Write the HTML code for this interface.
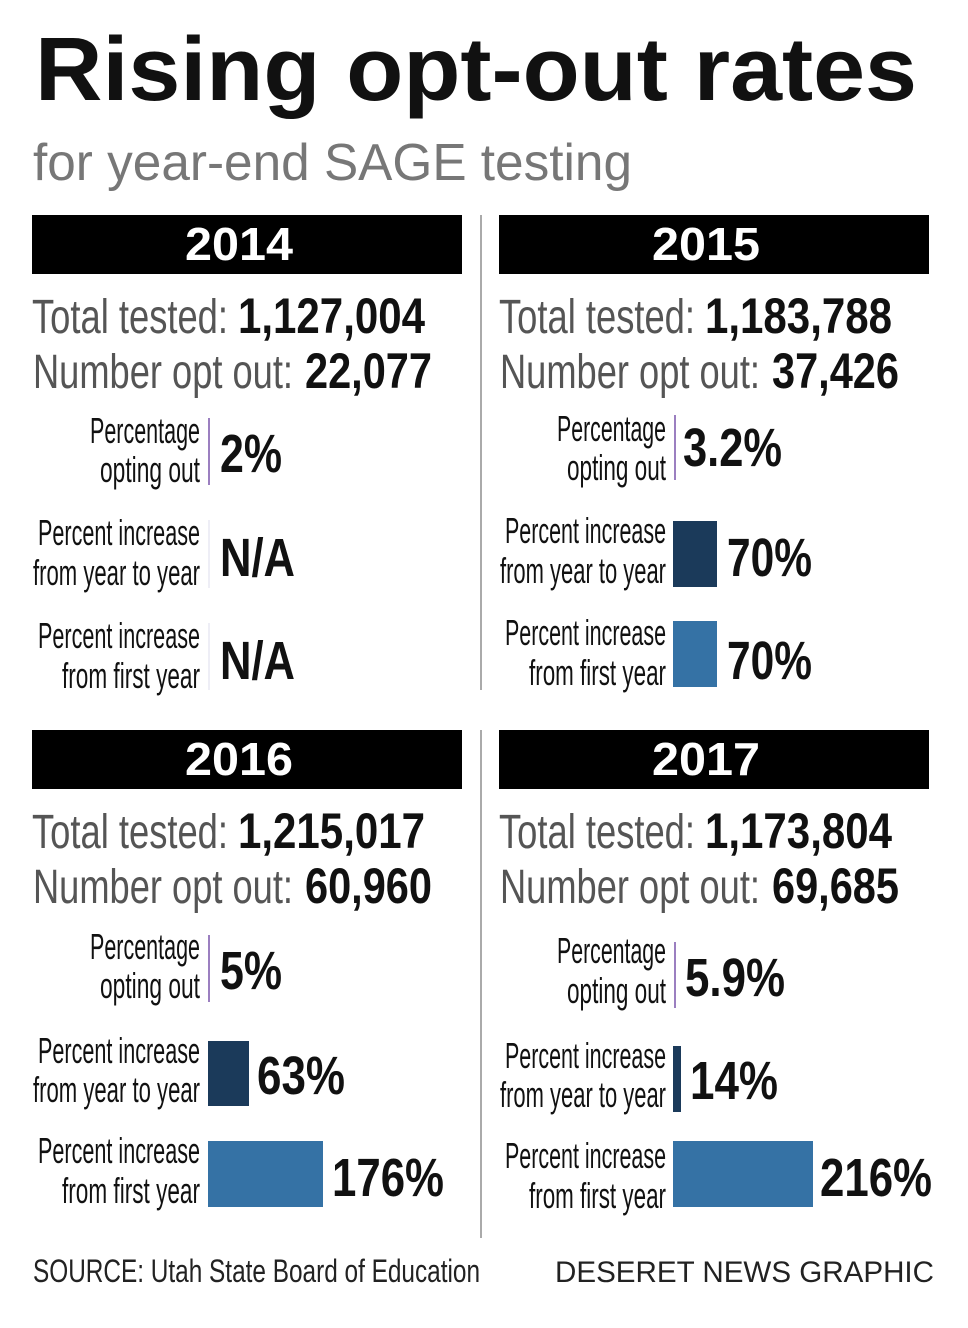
<!DOCTYPE html>
<html><head><meta charset="utf-8"><style>
html,body{margin:0;padding:0;background:#fff;}
svg{display:block;}
text{font-family:"Liberation Sans Narrow","Liberation Sans",sans-serif;}
.g{fill:#555;font-size:48px;}
.b{fill:#111;font-size:50px;font-weight:bold;}
.l{fill:#111;font-size:36px;}
.v{fill:#111;font-size:54px;font-weight:bold;}
.y{fill:#fff;font-size:46px;font-weight:bold;font-family:"Liberation Sans",sans-serif;}
</style></head><body>
<svg width="968" height="1328" viewBox="0 0 968 1328" xmlns="http://www.w3.org/2000/svg">
<text x="35" y="100" textLength="882" lengthAdjust="spacingAndGlyphs" style="font-family:'Liberation Sans',sans-serif;font-weight:bold;font-size:90px;fill:#111">Rising opt-out rates</text>
<text x="33" y="180" textLength="599" lengthAdjust="spacingAndGlyphs" style="font-family:'Liberation Sans',sans-serif;font-size:52px;fill:#777">for year-end SAGE testing</text>

<line x1="481" y1="215" x2="481" y2="690" stroke="#aaa" stroke-width="2"/>
<line x1="481" y1="730" x2="481" y2="1238" stroke="#aaa" stroke-width="2"/>

<!-- 2014 -->
<rect x="32" y="215" width="430" height="59" fill="#000"/>
<text class="y" x="185" y="260" textLength="108" lengthAdjust="spacingAndGlyphs">2014</text>
<text class="g" x="32" y="333" textLength="196" lengthAdjust="spacingAndGlyphs">Total tested:</text>
<text class="b" x="238" y="333" textLength="187" lengthAdjust="spacingAndGlyphs">1,127,004</text>
<text class="g" x="33" y="388" textLength="260" lengthAdjust="spacingAndGlyphs">Number opt out:</text>
<text class="b" x="305" y="388" textLength="127" lengthAdjust="spacingAndGlyphs">22,077</text>
<text class="l" x="90" y="443" textLength="110" lengthAdjust="spacingAndGlyphs">Percentage</text>
<text class="l" x="100" y="482" textLength="100" lengthAdjust="spacingAndGlyphs">opting out</text>
<line x1="209" y1="418" x2="209" y2="485" stroke="#9b7fc0" stroke-width="2"/>
<text class="v" x="220" y="472" textLength="62" lengthAdjust="spacingAndGlyphs">2%</text>
<text class="l" x="38" y="545" textLength="162" lengthAdjust="spacingAndGlyphs">Percent increase</text>
<text class="l" x="33" y="585" textLength="167" lengthAdjust="spacingAndGlyphs">from year to year</text>
<line x1="209" y1="520" x2="209" y2="588" stroke="#dde" stroke-width="1"/>
<text class="v" x="220" y="576" textLength="75" lengthAdjust="spacingAndGlyphs">N/A</text>
<text class="l" x="38" y="648" textLength="162" lengthAdjust="spacingAndGlyphs">Percent increase</text>
<text class="l" x="62" y="688" textLength="138" lengthAdjust="spacingAndGlyphs">from first year</text>
<line x1="209" y1="623" x2="209" y2="690" stroke="#dde" stroke-width="1"/>
<text class="v" x="220" y="679" textLength="75" lengthAdjust="spacingAndGlyphs">N/A</text>

<!-- 2015 -->
<rect x="499" y="215" width="430" height="59" fill="#000"/>
<text class="y" x="652" y="260" textLength="108" lengthAdjust="spacingAndGlyphs">2015</text>
<text class="g" x="499" y="333" textLength="196" lengthAdjust="spacingAndGlyphs">Total tested:</text>
<text class="b" x="705" y="333" textLength="187" lengthAdjust="spacingAndGlyphs">1,183,788</text>
<text class="g" x="500" y="388" textLength="260" lengthAdjust="spacingAndGlyphs">Number opt out:</text>
<text class="b" x="772" y="388" textLength="127" lengthAdjust="spacingAndGlyphs">37,426</text>
<text class="l" x="557" y="441" textLength="109" lengthAdjust="spacingAndGlyphs">Percentage</text>
<text class="l" x="567" y="480" textLength="99" lengthAdjust="spacingAndGlyphs">opting out</text>
<line x1="675" y1="415" x2="675" y2="480" stroke="#9b7fc0" stroke-width="2"/>
<text class="v" x="683" y="466" textLength="99" lengthAdjust="spacingAndGlyphs">3.2%</text>
<text class="l" x="505" y="543" textLength="161" lengthAdjust="spacingAndGlyphs">Percent increase</text>
<text class="l" x="500" y="583" textLength="166" lengthAdjust="spacingAndGlyphs">from year to year</text>
<rect x="673" y="521" width="44" height="66" fill="#1b3a5a"/>
<text class="v" x="727" y="576" textLength="85" lengthAdjust="spacingAndGlyphs">70%</text>
<text class="l" x="505" y="645" textLength="161" lengthAdjust="spacingAndGlyphs">Percent increase</text>
<text class="l" x="529" y="685" textLength="137" lengthAdjust="spacingAndGlyphs">from first year</text>
<rect x="673" y="621" width="44" height="66" fill="#3572a5"/>
<text class="v" x="727" y="679" textLength="85" lengthAdjust="spacingAndGlyphs">70%</text>

<!-- 2016 -->
<rect x="32" y="730" width="430" height="59" fill="#000"/>
<text class="y" x="185" y="775" textLength="108" lengthAdjust="spacingAndGlyphs">2016</text>
<text class="g" x="32" y="848" textLength="196" lengthAdjust="spacingAndGlyphs">Total tested:</text>
<text class="b" x="238" y="848" textLength="187" lengthAdjust="spacingAndGlyphs">1,215,017</text>
<text class="g" x="33" y="903" textLength="260" lengthAdjust="spacingAndGlyphs">Number opt out:</text>
<text class="b" x="305" y="903" textLength="127" lengthAdjust="spacingAndGlyphs">60,960</text>
<text class="l" x="90" y="959" textLength="110" lengthAdjust="spacingAndGlyphs">Percentage</text>
<text class="l" x="100" y="998" textLength="100" lengthAdjust="spacingAndGlyphs">opting out</text>
<line x1="209" y1="935" x2="209" y2="1002" stroke="#9b7fc0" stroke-width="2"/>
<text class="v" x="220" y="989" textLength="62" lengthAdjust="spacingAndGlyphs">5%</text>
<text class="l" x="38" y="1063" textLength="162" lengthAdjust="spacingAndGlyphs">Percent increase</text>
<text class="l" x="33" y="1102" textLength="167" lengthAdjust="spacingAndGlyphs">from year to year</text>
<rect x="208" y="1041" width="41" height="65" fill="#1b3a5a"/>
<text class="v" x="257" y="1094" textLength="88" lengthAdjust="spacingAndGlyphs">63%</text>
<text class="l" x="38" y="1163" textLength="162" lengthAdjust="spacingAndGlyphs">Percent increase</text>
<text class="l" x="62" y="1203" textLength="138" lengthAdjust="spacingAndGlyphs">from first year</text>
<rect x="208" y="1141" width="115" height="66" fill="#3572a5"/>
<text class="v" x="332" y="1196" textLength="112" lengthAdjust="spacingAndGlyphs">176%</text>

<!-- 2017 -->
<rect x="499" y="730" width="430" height="59" fill="#000"/>
<text class="y" x="652" y="775" textLength="108" lengthAdjust="spacingAndGlyphs">2017</text>
<text class="g" x="499" y="848" textLength="196" lengthAdjust="spacingAndGlyphs">Total tested:</text>
<text class="b" x="705" y="848" textLength="187" lengthAdjust="spacingAndGlyphs">1,173,804</text>
<text class="g" x="500" y="903" textLength="260" lengthAdjust="spacingAndGlyphs">Number opt out:</text>
<text class="b" x="772" y="903" textLength="127" lengthAdjust="spacingAndGlyphs">69,685</text>
<text class="l" x="557" y="963" textLength="109" lengthAdjust="spacingAndGlyphs">Percentage</text>
<text class="l" x="567" y="1003" textLength="99" lengthAdjust="spacingAndGlyphs">opting out</text>
<line x1="675" y1="942" x2="675" y2="1008" stroke="#9b7fc0" stroke-width="2"/>
<text class="v" x="685" y="996" textLength="100" lengthAdjust="spacingAndGlyphs">5.9%</text>
<text class="l" x="505" y="1068" textLength="161" lengthAdjust="spacingAndGlyphs">Percent increase</text>
<text class="l" x="500" y="1107" textLength="166" lengthAdjust="spacingAndGlyphs">from year to year</text>
<rect x="673" y="1046" width="8" height="66" fill="#1b3a5a"/>
<text class="v" x="690" y="1099" textLength="88" lengthAdjust="spacingAndGlyphs">14%</text>
<text class="l" x="505" y="1168" textLength="161" lengthAdjust="spacingAndGlyphs">Percent increase</text>
<text class="l" x="529" y="1208" textLength="137" lengthAdjust="spacingAndGlyphs">from first year</text>
<rect x="673" y="1141" width="140" height="66" fill="#3572a5"/>
<text class="v" x="820" y="1196" textLength="112" lengthAdjust="spacingAndGlyphs">216%</text>

<text x="33" y="1282" textLength="447" lengthAdjust="spacingAndGlyphs" style="font-size:32px;fill:#222">SOURCE: Utah State Board of Education</text>
<text x="555" y="1282" textLength="379" lengthAdjust="spacingAndGlyphs" style="font-family:'Liberation Sans',sans-serif;font-size:30px;fill:#222">DESERET NEWS GRAPHIC</text>
</svg>
</body></html>
